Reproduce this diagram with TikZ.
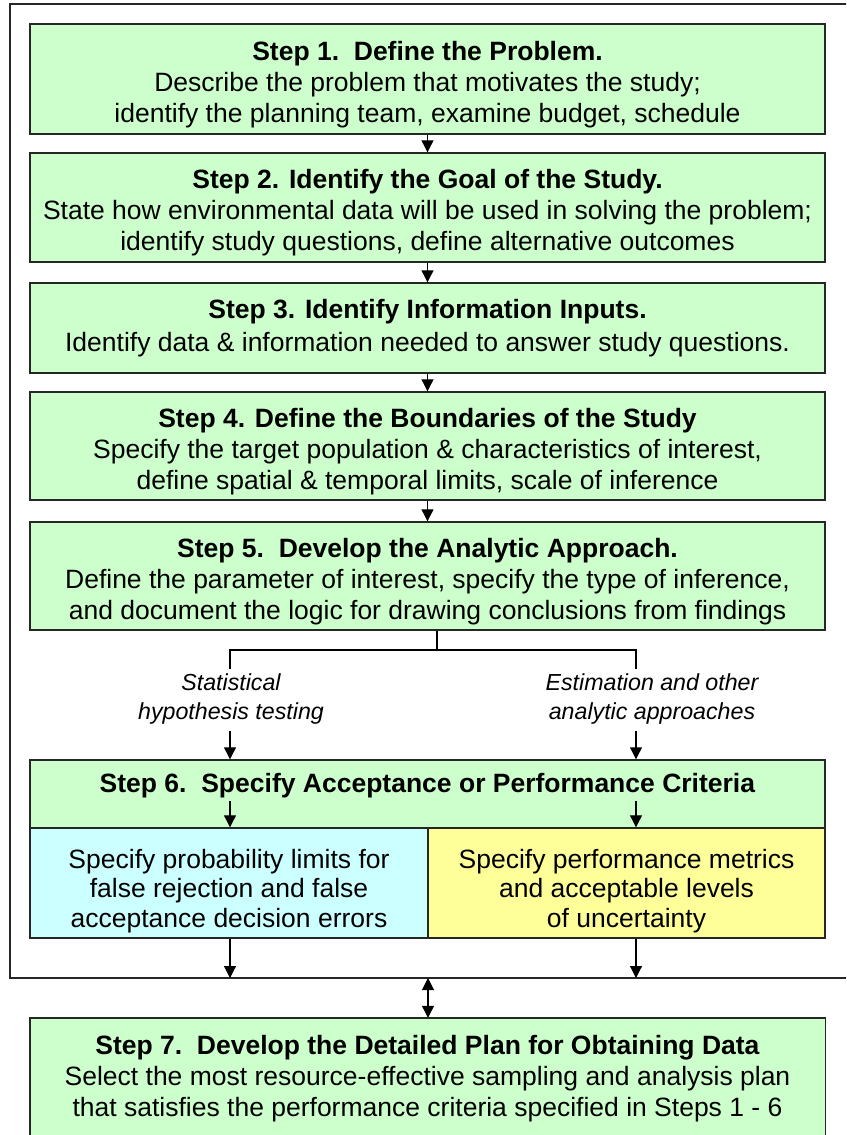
\documentclass[tikz,border=0pt]{standalone}
\usepackage{fontspec}
\setmainfont{Liberation Sans}
\usetikzlibrary{arrows.meta,backgrounds}
\definecolor{boxgreen}{HTML}{CCFFCC}
\definecolor{boxcyan}{HTML}{CCFFFF}
\definecolor{boxyellow}{HTML}{FFFF99}
\definecolor{edge}{HTML}{262626}
\newcommand\mytopstrut{\rule{0pt}{30pt}}
\newcommand\mytallstrut{\rule{0pt}{35pt}}
\begin{document}
\begin{tikzpicture}[x=1pt,y=-1pt,
  boxtext/.style={align=center, inner sep=0pt, font=\fontsize{26.5}{30.8}\selectfont},
  box/.style={boxtext, draw=edge, line width=1.4pt, fill=boxgreen, minimum width=795pt},
  arr/.style={-{Triangle[width=12pt,length=12pt]}, line width=1.1pt},
  dbl/.style={{Triangle[width=12pt,length=12pt]}-{Triangle[width=12pt,length=12pt]}, line width=1.1pt},
  conn/.style={line width=1.1pt},
  lbl/.style={font=\fontsize{23.2}{29}\selectfont\itshape, align=center, inner sep=0pt},
  frame/.style={draw=edge, line width=1.3pt}
]
\useasboundingbox (0,0) rectangle (846,1135);
\clip (0,0) rectangle (846,1135);

% outer frame
\draw[frame] (10,4) rectangle (880,978);
\coordinate (fbot) at (0,978);

% steps 1-5
\node[box, minimum height=110pt] (s1) at (427.5,79)
  {\mytopstrut\textbf{Step 1.\ \ Define the Problem.}\\Describe the problem that motivates the study;\\identify the planning team, examine budget, schedule};
\node[box, minimum height=109pt] (s2) at (427.5,207.5)
  {\mytopstrut\textbf{Step 2. Identify the Goal of the Study.}\\State how environmental data will be used in solving the problem;\\identify study questions, define alternative outcomes};
\node[box, minimum height=90pt, font=\fontsize{26.5}{32.5}\selectfont] (s3) at (427.5,328)
  {\textbf{Step 3. Identify Information Inputs.}\\Identify data \& information needed to answer study questions.};
\node[box, minimum height=108pt] (s4) at (427.5,446)
  {\mytopstrut\textbf{Step 4. Define the Boundaries of the Study}\\Specify the target population \& characteristics of interest,\\define spatial \& temporal limits, scale of inference};
\node[box, minimum height=108pt] (s5) at (427.5,576)
  {\mytopstrut\textbf{Step 5.\ \ Develop the Analytic Approach.}\\Define the parameter of interest, specify the type of inference,\\and document the logic for drawing conclusions from findings};

\draw[arr] (s1) -- (s2);
\draw[arr] (s2) -- (s3);
\draw[arr] (s3) -- (s4);
\draw[arr] (s4) -- (s5);

% step 6
\node[box, minimum height=68pt, text height=20pt, text depth=23pt] (s6) at (427.5,794)
  {\textbf{Step 6.\ \ Specify Acceptance or Performance Criteria}};
\node[box, fill=boxcyan, minimum width=398pt, minimum height=110pt,
  font=\fontsize{26.5}{29.5}\selectfont] (s6a) at (229,883)
  {\mytallstrut Specify probability limits for\\false rejection and false\\acceptance decision errors};
\node[box, fill=boxyellow, minimum width=397pt, minimum height=110pt,
  font=\fontsize{26.5}{29.5}\selectfont] (s6b) at (626.5,883)
  {\mytallstrut Specify performance metrics\\and acceptable levels\\of uncertainty};

% branching
\coordinate (bm) at (437,650);
\coordinate (bl) at (230,650);
\coordinate (br) at (636,650);
\coordinate (bl2) at (230,669);
\coordinate (br2) at (636,669);
\draw[conn] (s5.south -| bm) -- (bm);
\draw[conn] (bl2) -- (bl) -- (br) -- (br2);
\node[lbl] (lblL) at (231,699) {Statistical\\hypothesis testing};
\node[lbl] (lblR) at (652,699) {Estimation and other\\analytic approaches};
\coordinate (al) at (230,731);
\coordinate (ar) at (636,731);
\draw[arr] (al) -- (s6.north -| al);
\draw[arr] (ar) -- (s6.north -| ar);
\coordinate (hl) at (230,801);
\coordinate (hr) at (636,801);
\draw[arr] (hl) -- (s6a.north -| hl);
\draw[arr] (hr) -- (s6b.north -| hr);
\draw[arr] (s6a.south -| hl) -- (fbot -| hl);
\draw[arr] (s6b.south -| hr) -- (fbot -| hr);

% step 7 (box runs past the lower edge)
\node[boxtext, minimum width=795pt, minimum height=110pt] (s7) at (427.5,1073)
  {\mytopstrut\textbf{Step 7.\ \ Develop the Detailed Plan for Obtaining Data}\\Select the most resource-effective sampling and analysis plan\\that satisfies the performance criteria specified in Steps 1 - 6};
\begin{scope}[on background layer]
\fill[boxgreen] (s7.north west) rectangle ([yshift=-40pt]s7.south east);
\draw[draw=edge, line width=1.4pt] ([yshift=-40pt]s7.south west) -- (s7.north west) -- (s7.north east) -- ([yshift=-40pt]s7.south east);
\end{scope}
\coordinate (dm) at (428,978);
\draw[dbl] (dm) -- (s7.north -| dm);
\end{tikzpicture}
\end{document}
